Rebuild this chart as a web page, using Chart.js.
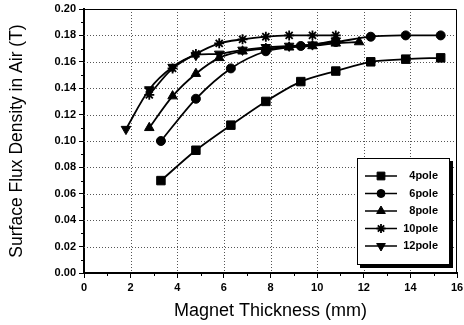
<!DOCTYPE html>
<html>
<head>
<meta charset="utf-8">
<script src="https://cdn.jsdelivr.net/npm/chart.js@4.4.0/dist/chart.umd.min.js"></script>
<style>
  html, body { margin: 0; padding: 0; background: #fff; }
</style>
</head>
<body>
<canvas id="fluxChart" width="464" height="325"></canvas>
<script>
// magnet thickness (mm) and surface flux density (T)
let thick4 = [3.3, 4.8, 6.3, 7.8, 9.3, 10.8, 12.3, 13.8, 15.3];
let flux4 = [0.070, 0.093, 0.112, 0.130, 0.145, 0.153, 0.160, 0.162, 0.163];

let thick6 = [3.3, 4.8, 6.3, 7.8, 9.3, 10.8, 12.3, 13.8, 15.3];
let flux6 = [0.100, 0.132, 0.155, 0.168, 0.172, 0.175, 0.179, 0.180, 0.180];

let thick8 = [2.8, 3.8, 4.8, 5.8, 6.8, 7.8, 8.8, 9.8, 10.8, 11.8];
let flux8 = [0.110, 0.134, 0.151, 0.163, 0.168, 0.170, 0.171, 0.172, 0.174, 0.175];

let thick10 = [2.8, 3.8, 4.8, 5.8, 6.8, 7.8, 8.8, 9.8, 10.8];
let flux10 = [0.135, 0.155, 0.166, 0.174, 0.177, 0.179, 0.180, 0.180, 0.180];

let thick12 = [1.8, 2.8, 3.8, 4.8, 5.8, 6.8, 7.8, 8.8, 9.8, 10.8];
let flux12 = [0.109, 0.139, 0.156, 0.165, 0.166, 0.169, 0.171, 0.172, 0.173, 0.176];

let seriesNames = ['4pole', '6pole', '8pole', '10pole', '12pole'];
let xTicks = [0, 2, 4, 6, 8, 10, 12, 14, 16];
let yTicks = [0, 0.02, 0.04, 0.06, 0.08, 0.10, 0.12, 0.14, 0.16, 0.18, 0.20];

function pairs(xs, ys) {
	return xs.map((x, i) => ({ x: x, y: ys[i] }));
}

let markers = [
	{ style: 'rect', radius: 6, rotation: 0 },
	{ style: 'circle', radius: 4.5, rotation: 0 },
	{ style: 'triangle', radius: 5.5, rotation: 0 },
	{ style: 'star', radius: 5, rotation: 0 },
	{ style: 'triangle', radius: 5.5, rotation: 180 }
];
let allX = [thick4, thick6, thick8, thick10, thick12];
let allY = [flux4, flux6, flux8, flux10, flux12];

let datasets = seriesNames.map((name, i) => ({
	label: name,
	data: pairs(allX[i], allY[i]),
	borderColor: '#000',
	backgroundColor: '#000',
	borderWidth: 1.8,
	tension: 0.3,
	pointStyle: markers[i].style,
	pointRadius: markers[i].radius,
	pointRotation: markers[i].rotation,
	pointBorderWidth: markers[i].style === 'star' ? 1.8 : 1,
	pointBackgroundColor: '#000',
	pointBorderColor: '#000'
}));

// dotted grid under the data
const dottedGrid = {
	id: 'dottedGrid',
	beforeDatasetsDraw(chart) {
		let ctx = chart.ctx;
		let a = chart.chartArea;
		let xs = chart.scales.x, ys = chart.scales.y;
		ctx.save();
		ctx.strokeStyle = '#555';
		ctx.lineWidth = 1;
		ctx.setLineDash([1, 2]);
		ctx.beginPath();
		xTicks.slice(1, -1).forEach(v => {
			let px = Math.round(xs.getPixelForValue(v)) + 0.5;
			ctx.moveTo(px, a.top);
			ctx.lineTo(px, a.bottom);
		});
		yTicks.slice(1, -1).forEach(v => {
			let py = Math.round(ys.getPixelForValue(v)) + 0.5;
			ctx.moveTo(a.left, py);
			ctx.lineTo(a.right, py);
		});
		ctx.stroke();
		ctx.restore();
	}
};

// frame, minor ticks and boxed legend
const extras = {
	id: 'extras',
	afterDraw(chart) {
		let ctx = chart.ctx;
		let a = chart.chartArea;
		let xs = chart.scales.x, ys = chart.scales.y;
		ctx.save();
		ctx.strokeStyle = '#000';
		ctx.lineWidth = 1;
		ctx.beginPath();
		ctx.moveTo(a.left, a.top + 0.5);
		ctx.lineTo(a.right - 0.5, a.top + 0.5);
		ctx.lineTo(a.right - 0.5, a.bottom);
		ctx.stroke();

		// minor ticks
		ctx.beginPath();
		for (let v = 1; v < 16; v += 2) {
			let px = Math.round(xs.getPixelForValue(v)) + 0.5;
			ctx.moveTo(px, a.bottom);
			ctx.lineTo(px, a.bottom + 3);
		}
		for (let k = 1; k < 20; k += 2) {
			let py = Math.round(ys.getPixelForValue(k / 100)) + 0.5;
			ctx.moveTo(a.left, py);
			ctx.lineTo(a.left - 3, py);
		}
		ctx.stroke();

		// legend box
		let bx = 357, by = 158, bw = 93, bh = 107;
		ctx.fillStyle = '#000';
		ctx.fillRect(bx + 3, by + 3, bw, bh);
		ctx.fillStyle = '#fff';
		ctx.fillRect(bx, by, bw, bh);
		ctx.strokeRect(bx + 0.5, by + 0.5, bw - 1, bh - 1);

		ctx.font = 'bold 11px "Liberation Sans", Arial, sans-serif';
		ctx.textAlign = 'right';
		ctx.textBaseline = 'middle';
		seriesNames.forEach((name, i) => {
			let ry = by + 18 + i * 17.5;
			ctx.strokeStyle = '#000';
			ctx.fillStyle = '#000';
			ctx.lineWidth = 1.5;
			ctx.beginPath();
			ctx.moveTo(bx + 8, ry);
			ctx.lineTo(bx + 40, ry);
			ctx.stroke();
			ctx.lineWidth = markers[i].style === 'star' ? 1.8 : 1;
			Chart.helpers.drawPoint(ctx, {
				pointStyle: markers[i].style,
				rotation: markers[i].rotation,
				radius: markers[i].radius - 0.5,
				borderWidth: ctx.lineWidth
			}, bx + 24, ry);
			ctx.fillStyle = '#000';
			ctx.fillText(name, bx + 81, ry);
		});
		ctx.restore();
	}
};

let canvas = document.getElementById('fluxChart');
let tickFont = { family: '"Liberation Sans", Arial, sans-serif', size: 11, weight: 'bold' };

new Chart(canvas, {
	type: 'line',
	data: { datasets: datasets },
	plugins: [dottedGrid, extras],
	options: {
		responsive: false,
		animation: false,
		layout: { padding: { top: 9, right: 6, left: 0, bottom: 0 } },
		plugins: {
			legend: { display: false },
			tooltip: { enabled: false }
		},
		scales: {
			x: {
				type: 'linear',
				min: 0,
				max: 16,
				afterBuildTicks: (scale) => { scale.ticks = xTicks.map(v => ({ value: v })); },
				afterFit: (scale) => {
					scale.height = 52;
					scale.paddingLeft = 0;
					scale.paddingRight = 0;
				},
				ticks: {
					color: '#000',
					font: tickFont,
					padding: 3,
					maxRotation: 0,
					autoSkip: false
				},
				grid: {
					drawOnChartArea: false,
					tickLength: 5,
					tickColor: '#000',
					tickWidth: 1
				},
				border: { display: true, color: '#000', width: 2 },
				title: {
					display: true,
					text: 'Magnet Thickness (mm)',
					color: '#000',
					font: { family: '"Liberation Sans", Arial, sans-serif', size: 18 },
					padding: { top: 0, bottom: 3 }
				}
			},
			y: {
				type: 'linear',
				min: 0,
				max: 0.2,
				afterBuildTicks: (scale) => { scale.ticks = yTicks.map(v => ({ value: v })); },
				afterFit: (scale) => {
					scale.width = 84;
					scale.paddingTop = 0;
					scale.paddingBottom = 0;
				},
				ticks: {
					color: '#000',
					font: tickFont,
					padding: 3,
					autoSkip: false,
					callback: (v) => Number(v).toFixed(2)
				},
				grid: {
					drawOnChartArea: false,
					tickLength: 5,
					tickColor: '#000',
					tickWidth: 1
				},
				border: { display: true, color: '#000', width: 2 },
				title: {
					display: true,
					text: 'Surface Flux Density in Air (T)',
					color: '#000',
					font: { family: '"Liberation Sans", Arial, sans-serif', size: 17.5 },
					padding: { top: 7, bottom: 0 }
				}
			}
		}
	}
});
</script>
</body>
</html>
